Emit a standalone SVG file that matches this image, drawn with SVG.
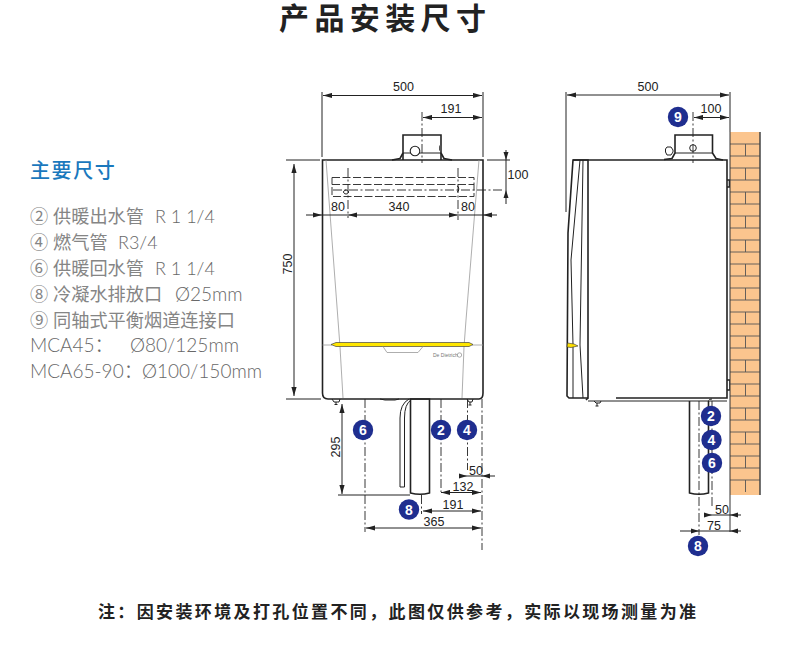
<svg xmlns="http://www.w3.org/2000/svg" width="790" height="652" viewBox="0 0 790 652">
<style>
.ln{fill:none;stroke:#222;stroke-width:1}
.th{fill:none;stroke:#222;stroke-width:1.6}
.lt{fill:none;stroke:#999;stroke-width:.8}
.cl{fill:none;stroke:#222;stroke-width:.9;stroke-dasharray:9 2.5 2 2.5}
.ds{fill:none;stroke:#222;stroke-width:.9;stroke-dasharray:8 2.5}
.dim{fill:none;stroke:#222;stroke-width:1;marker-start:url(#as);marker-end:url(#ae)}
.ah{fill:#222}
.d{font:12.5px "Liberation Sans",Arial,sans-serif;fill:#222;text-anchor:middle}
.nb{fill:#1f2e8f}
.nt{font:bold 14px "Liberation Sans",Arial,sans-serif;fill:#fff;text-anchor:middle}
.sp{font:300 19px Lato,"Noto Sans CJK SC",sans-serif;fill:#686868}
.r{font-size:18px}
.cj{font:400 18.2px "Noto Sans CJK SC",sans-serif;fill:#858585}
.ci{font:400 18.2px "Noto Sans CJK SC",sans-serif;fill:#858585}
.br{stroke:#555;stroke-width:.9;fill:none}
</style>
<defs>
<marker id="ae" markerWidth="10" markerHeight="6" refX="9" refY="3" orient="auto" markerUnits="userSpaceOnUse"><path d="M0 .4L9 3L0 5.600z" fill="#222"/></marker>
<marker id="as" markerWidth="10" markerHeight="6" refX="1" refY="3" orient="auto" markerUnits="userSpaceOnUse"><path d="M10 .4L1 3L10 5.600z" fill="#222"/></marker>
<g id="n"><circle r="10.200" class="nb"/></g>
</defs>
<rect width="790" height="652" fill="#fff"/>
<text id="title" x="279" y="28.500" style="font:bold 30px 'Noto Sans CJK SC',sans-serif;letter-spacing:5.400px;fill:#222">产品安装尺寸</text>
<g id="specs">
<text x="30" y="178" style="font:500 20px 'Noto Sans CJK SC',sans-serif;letter-spacing:1.600px;fill:#1a78bd">主要尺寸</text>
<text class="ci" x="30" y="223">②</text><text class="cj" x="53" y="223">供暖出水管</text><text class="sp r" x="155" y="223">R 1 1/4</text>
<text class="ci" x="30" y="249">④</text><text class="cj" x="53" y="249">燃气管</text><text class="sp r" x="118" y="249">R3/4</text>
<text class="ci" x="30" y="275">⑥</text><text class="cj" x="53" y="275">供暖回水管</text><text class="sp r" x="155" y="275">R 1 1/4</text>
<text class="ci" x="30" y="301">⑧</text><text class="cj" x="53" y="301">冷凝水排放口</text><text class="sp" x="175" y="301">Ø25mm</text>
<text class="ci" x="30" y="327">⑨</text><text class="cj" x="53" y="327">同轴式平衡烟道连接口</text>
<text class="sp" x="30" y="352">MCA45：</text>
<text class="sp" x="130" y="352">Ø80/125mm</text>
<text class="sp" x="30" y="378">MCA65-90：</text>
<text class="sp" x="142" y="378">Ø100/150mm</text>
</g>
<g id="front-boiler">
<path class="th" d="M322.500 160H483V393Q483 399 479 399H328Q322.500 399 322.500 393Z"/>
<path class="lt" d="M326 160L338 320L340 347L343 398M479 160L466 320L464 347L462 398M322.500 345H332M472 345H483"/>
<path d="M331 344.500L336 342.500H469L473 344.500L469 346.500H336Z" fill="#ffe600" stroke="#444" stroke-width=".7"/>
<path class="lt" d="M383 346.500L387 352.500H418L423 346.500"/>
<text x="433" y="357" style="font:5px 'Liberation Sans',sans-serif;fill:#777">De Dietrich</text>
<circle cx="459.500" cy="355" r="2.200" class="lt"/>
<path class="th" d="M403 160V135H441V160"/>
<path class="ln" d="M403 153H441"/>
<path d="M392 160L400 158.500L403 153M452 160L444 158.500L441 153" class="th"/>
<circle cx="415" cy="151" r="4.800" fill="#fff" stroke="#222" stroke-width="1.100"/>
<rect x="439" y="145" width="3" height="6" rx="1.500" fill="#555"/>
<path class="ds" d="M332 177.500H474V196.500H332ZM332 184.500H474"/>
<path class="ln" d="M346 190a2.500 2 0 1 0 .1 0M457 186a1.500 2.500 0 0 1 0 6"/>
<path class="ln" d="M332 399l2 3h5l1 -3M336 402v2.500M334.500 404.500h3M467 399l2 3h3l1-3M470 402v3M468.500 405h3M380 399L385 400H395L399 399"/>
<path class="ln" d="M409 399Q400 404 400 418V487H404.500V418Q404.500 404 411 400"/>
<path class="th" d="M410.500 399H429.500V493Q420 495.500 410.500 493Z"/>
</g>
<g id="side-boiler">
<path class="th" d="M573 160H588V398H569L567 396L568 233Z"/>
<path class="ln" d="M580 160L571 260L573 345V398M583 160L580 345L583 398"/>
<path d="M567.500 343L574 344L578 346L571 347.500L567 347Z" fill="#ffe000" stroke="#333" stroke-width=".6"/>
<path class="th" d="M573 160H727V398H616M588 398L586 400"/>
<path class="th" d="M727 180H729.500V187H727M727 380H730V390H727"/>
<path class="ln" d="M588 401H727M594 401l2 2h4l1-2M597 403v3M595.500 406h3"/>
<path class="ln" d="M708.500 400.500Q709 399 712 399"/>
<path class="th" d="M664 159.500L672 158.500L675 153V135H712.500V153L716 158.500L723 160"/>
<path class="ln" d="M675 153H712"/>
<circle cx="693" cy="148" r="3.300" fill="#fff" stroke="#222" stroke-width="1"/>
<path d="M667 147h4l2 3v2l-2 3h-4l-1.500-3v-3z" fill="#fff" stroke="#222" stroke-width="1"/>
<path class="th" d="M689.500 401V493Q699 495.500 708.500 493V401"/>
</g>
<g id="wall">
<rect x="730" y="132" width="30" height="363" fill="#fbc58e"/>
<path class="br" d="M730 144H760M730 156H760M730 168H760M730 180H760M730 192H760M730 204H760M730 216H760M730 228H760M730 240H760M730 252H760M730 264H760M730 276H760M730 288H760M730 300H760M730 312H760M730 324H760M730 336H760M730 348H760M730 360H760M730 372H760M730 384H760M730 396H760M730 408H760M730 420H760M730 432H760M730 444H760M730 456H760M730 468H760M730 480H760"/>
<path class="br" d="M745.500 144V156M745.500 168V180M745.500 192V204M745.500 216V228M745.500 240V252M745.500 264V276M745.500 288V300M745.500 312V324M745.500 336V348M745.500 360V372M745.500 384V396M745.500 408V420M745.500 432V444M745.500 456V468M745.500 480V492"/>
<path d="M760 132V495" stroke="#444" stroke-width="1.500"/>
<path d="M730 132V532" stroke="#333" stroke-width="1"/>
</g>
<g id="connectors">
<path class="ln" d="M322 92V157M483 92V157M286 160H320M487 160H510M286 399H321M338 495H410M566 92V212M730 92V132"/>
<path class="dim" d="M323 95.500H482"/>
<path class="cl" d="M422 112V163"/>
<path class="dim" d="M423 117.500H482"/>
<path class="dim" d="M294 164V396"/>
<path class="ln" d="M506 150V204"/>
<path class="ah" d="M506 160l-2.500-8h5zM506 190l-2.500 8h5z"/>
<path class="cl" d="M333 190H502"/>
<path class="cl" d="M348 168V218M458 168V220"/>
<path class="ln" d="M306 215H497"/>
<path class="ah" d="M322 215l-9-2.600v5.200zM348 215l9-2.600v5.200zM458 215l-9-2.600v5.200zM483 215l9-2.600v5.200z"/>
<path class="dim" d="M342 404V494"/>
<path class="cl" d="M365 399V532M441 399V492M467.500 399V470M482 399V550M421.500 495V514"/>
<path d="M460 476H495" class="ln"/>
<path class="ah" d="M467 476l-8-2.600v5.200zM482 476l8-2.600v5.200z"/>
<path class="dim" d="M441 492.500H481"/>
<path class="dim" d="M423 511H481"/>
<path class="dim" d="M366 528H481"/>
<path class="cl" d="M693 112V163"/>
<path class="dim" d="M694 117.500H729"/>
<path class="dim" d="M567 95H729"/>
<path class="cl" d="M699 401V535M712 401V507"/>
<path class="ln" d="M707 515H741M680 531H741"/>
<path class="ah" d="M712 515l-8-2.600v5.200zM730 515l8-2.600v5.200zM699 531l-8-2.600v5.200zM730 531l8-2.600v5.200z"/>
</g>
<g id="dim-labels">
<text class="d" x="403.500" y="91">500</text>
<text class="d" x="451" y="113">191</text>
<text class="d" x="338" y="211">80</text>
<text class="d" x="399" y="211">340</text>
<text class="d" x="468" y="211">80</text>
<text class="d" x="518" y="179">100</text>
<text class="d" transform="translate(292 264) rotate(-90)">750</text>
<text class="d" transform="translate(340 447) rotate(-90)">295</text>
<text class="d" x="476" y="475">50</text>
<text class="d" x="463" y="491">132</text>
<text class="d" x="453" y="509">191</text>
<text class="d" x="434" y="526">365</text>
<text class="d" x="648" y="91">500</text>
<text class="d" x="711" y="113">100</text>
<text class="d" x="722" y="514">50</text>
<text class="d" x="714" y="530">75</text>
</g>
<g id="n6"><use href="#n" x="363" y="430"/><text class="nt" x="363" y="435">6</text></g>
<g id="n2"><use href="#n" x="441" y="430"/><text class="nt" x="441" y="435">2</text></g>
<g id="n4"><use href="#n" x="467" y="430"/><text class="nt" x="467" y="435">4</text></g>
<g id="n8"><use href="#n" x="409" y="509.500"/><text class="nt" x="409" y="514.500">8</text></g>
<g id="n9"><use href="#n" x="678" y="117"/><text class="nt" x="678" y="122">9</text></g>
<g id="n2b"><use href="#n" x="711" y="416"/><text class="nt" x="711" y="421">2</text></g>
<g id="n4b"><use href="#n" x="711.500" y="440"/><text class="nt" x="711.500" y="445">4</text></g>
<g id="n6b"><use href="#n" x="712" y="463"/><text class="nt" x="712" y="468">6</text></g>
<g id="n8b"><use href="#n" x="698" y="546"/><text class="nt" x="698" y="551">8</text></g>
<text id="note" x="98" y="618" style="font:bold 17px 'Noto Sans CJK SC',sans-serif;letter-spacing:2.370px;fill:#222">注：因安装环境及打孔位置不同，此图仅供参考，实际以现场测量为准</text>
</svg>
